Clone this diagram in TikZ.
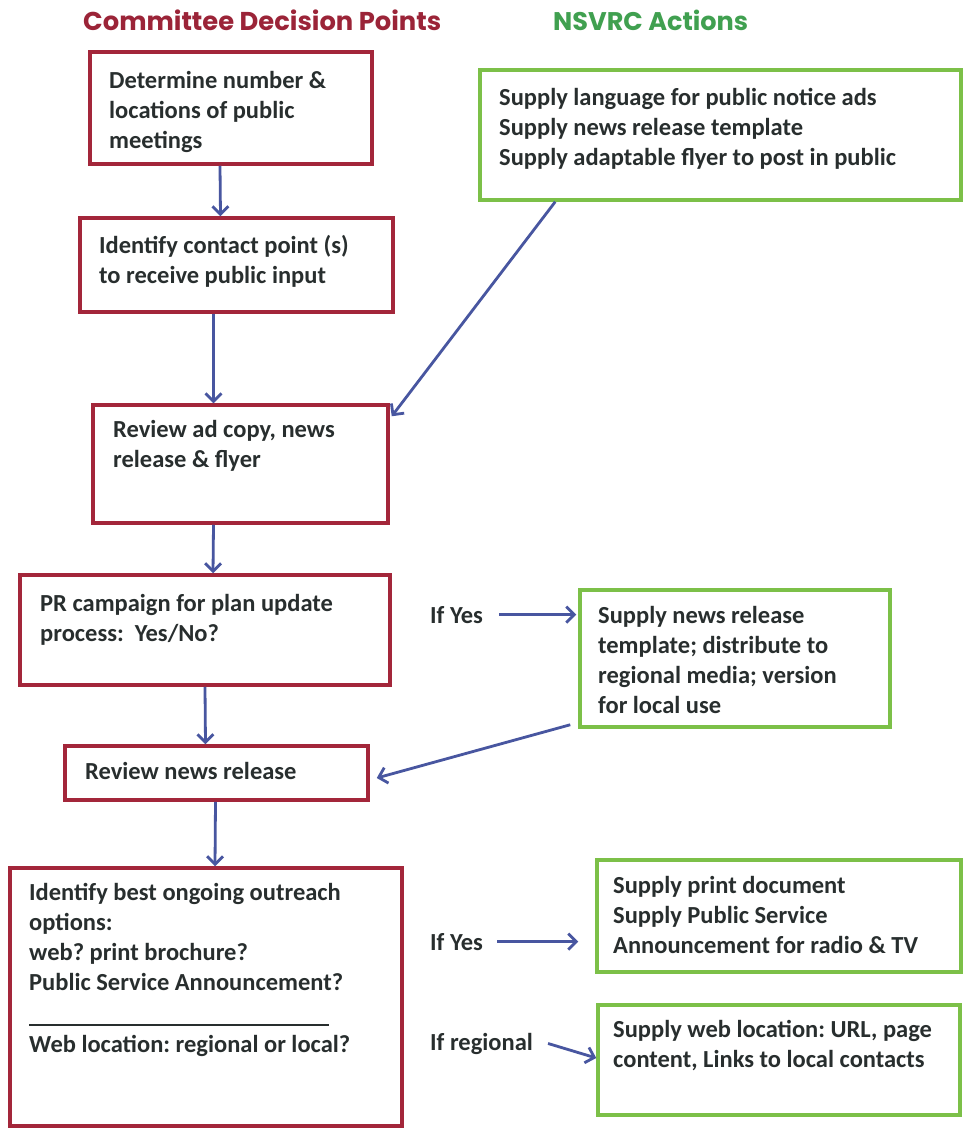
\documentclass[tikz,border=0pt]{standalone}
\usepackage{fontspec}
\setmainfont{Carlito}
\newfontfamily\titlefont{Poppins}
\usetikzlibrary{arrows.meta}
\definecolor{boxred}{RGB}{163,38,58}
\definecolor{titlered}{RGB}{155,36,56}
\definecolor{boxgreen}{RGB}{124,192,72}
\definecolor{titlegreen}{RGB}{64,160,80}
\definecolor{arrowblue}{RGB}{72,86,160}
\definecolor{txtc}{RGB}{40,46,46}
\newcommand\ml[1]{\begin{tabular}[t]{@{}l@{}}#1\end{tabular}}
\frenchspacing
\begin{document}
\begin{tikzpicture}[x=1pt,y=-1pt,
  redbox/.style={draw=boxred, line width=3.5pt, rectangle, inner sep=0pt, fill=white},
  greenbox/.style={draw=boxgreen, line width=3.5pt, rectangle, inner sep=0pt, fill=white},
  txt/.style={anchor=base west, inner sep=0pt, text=txtc, font=\bfseries\fontsize{24.5}{30}\selectfont},
  ttl/.style={anchor=base west, inner sep=0pt, font=\titlefont\bfseries\fontsize{26}{30}\selectfont},
  arr/.style={draw=arrowblue, line width=2.8pt, -{Straight Barb[length=8pt,width=16pt]}}
]
\useasboundingbox (0,0) rectangle (963,1128);
\fill[white] (0,0) rectangle (963,1128);

% titles
\node[ttl, text=titlered] (t1) at (83,30) {\resizebox{358pt}{!}{Committee Decision Points}};
\node[ttl, text=titlegreen] (t2) at (553,30) {\resizebox{195pt}{!}{NSVRC Actions}};

% red boxes
\node[redbox, minimum width=282pt, minimum height=112pt] (R1) at (231,108) {};
\node[redbox, minimum width=313pt, minimum height=94pt] (R2) at (236.5,265) {};
\node[redbox, minimum width=295pt, minimum height=118pt] (R3) at (240.5,464) {};
\node[redbox, minimum width=370pt, minimum height=110pt] (R4) at (205,630) {};
\node[redbox, minimum width=303pt, minimum height=54pt] (R5) at (216.5,773) {};
\node[redbox, minimum width=392pt, minimum height=258pt] (R6) at (206,997) {};

% green boxes
\node[greenbox, minimum width=481pt, minimum height=130pt] (G1) at (720.5,135) {};
\node[greenbox, minimum width=310pt, minimum height=137pt] (G2) at (735,658.5) {};
\node[greenbox, minimum width=364pt, minimum height=112pt] (G3) at (779,916) {};
\node[greenbox, minimum width=362pt, minimum height=110pt] (G4) at (779,1060) {};

% texts
\node[txt] (R1t) at (109,88) {\ml{Determine number \&\\locations of public\\meetings}};
\node[txt] (R2t) at (99,253) {\ml{Identify contact point (s)\\to receive public input}};
\node[txt] (R3t) at (113,437) {\ml{Review ad copy, news\\release \& flyer}};
\node[txt] (R4t) at (40,611) {\ml{PR campaign for plan update\\process:\ \ Yes/No?}};
\node[txt] (R5t) at (85,779) {Review news release};
\node[txt] (R6t) at (29,900) {\ml{Identify best ongoing outreach\\options:\\web? print brochure?\\Public Service Announcement?}};
\node[txt] (R6w) at (29,1052) {Web location: regional or local?};
\draw[txtc, line width=2pt] (29,1025) -- (329,1025);

\node[txt] (G1t) at (499,105) {\ml{Supply language for public notice ads\\Supply news release template\\Supply adaptable flyer to post in public}};
\node[txt] (G2t) at (598,623) {\ml{Supply news release\\template; distribute to\\regional media; version\\for local use}};
\node[txt] (G3t) at (613,893) {\ml{Supply print document\\Supply Public Service\\Announcement for radio \& TV}};
\node[txt] (G4t) at (613,1037) {\ml{Supply web location: URL, page\\content, Links to local contacts}};

% condition labels
\node[txt] (Y1) at (430,623) {If Yes};
\node[txt] (Y2) at (430,950) {If Yes};
\node[txt] (Y3) at (430,1050) {If regional};

% connectors
\draw[arr] ([xshift=-11pt]R1.south) -- ([xshift=-16pt]R2.north);
\draw[arr] ([xshift=-23pt]R2.south) -- ([xshift=-27pt]R3.north);
\draw[arr] ([xshift=-27pt]R3.south) -- ([xshift=8pt]R4.north);
\draw[arr] (R4.south) -- ([xshift=-11pt]R5.north);
\draw[arr] ([xshift=-1pt]R5.south) -- ([xshift=9pt]R6.north);
\draw[arr] ([xshift=77pt]G1.south west) -- ([shift={(2pt,-13pt)}]R3.north east);
\draw[arr] ([shift={(-8pt,4pt)}]G2.south west) -- ([shift={(7pt,-5pt)}]R5.east);
\draw[arr] ([xshift=16pt]Y1.east) -- ([xshift=-2pt]G2.west |- Y1.east);
\draw[arr] ([xshift=14pt]Y2.east) -- ([xshift=-17pt]G3.west |- Y2.east);
\draw[arr] ([shift={(15pt,0pt)}]Y3.east) -- ([yshift=2pt]G4.west);
\end{tikzpicture}
\end{document}
